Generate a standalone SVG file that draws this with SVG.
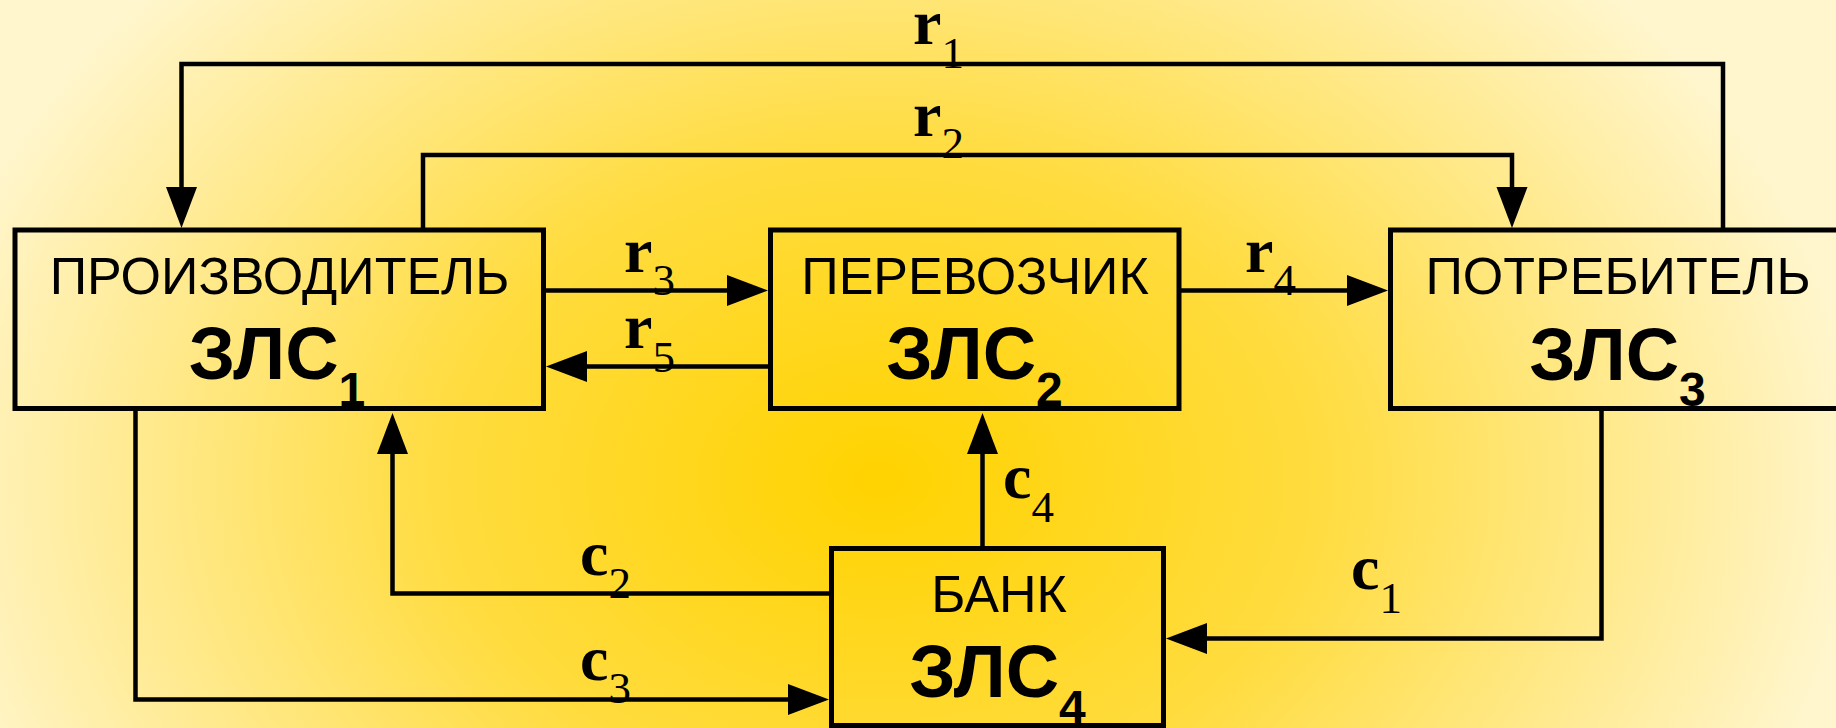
<svg xmlns="http://www.w3.org/2000/svg" width="1836" height="728" viewBox="0 0 1836 728">
<defs>
<radialGradient id="bg" gradientUnits="userSpaceOnUse" cx="880" cy="480" r="980" gradientTransform="translate(880 480) scale(1 0.75) translate(-880 -480)">
<stop offset="0" stop-color="#FFD300"/>
<stop offset="0.45" stop-color="#FFDC40"/>
<stop offset="0.8" stop-color="#FFEC9A"/>
<stop offset="1" stop-color="#FFF6CE"/>
</radialGradient>
<marker id="ah" markerUnits="userSpaceOnUse" markerWidth="42" markerHeight="32" viewBox="0 0 42 32" refX="1" refY="15.5" orient="auto">
<path d="M0,0 L41,15.5 L0,31 Z" fill="#000"/>
</marker>
</defs>
<style>
.box{fill:none;stroke:#000;stroke-width:5}
.ln{fill:none;stroke:#000;stroke-width:4.5;marker-end:url(#ah)}
.nm{font-family:"Liberation Sans",Arial,sans-serif;font-size:52px;fill:#000;text-anchor:middle}
.zl{font-family:"Liberation Sans",Arial,sans-serif;font-size:74px;font-weight:bold;fill:#000;text-anchor:middle}
.zs{font-size:48px}
.lb{font-family:"Liberation Serif","Times New Roman",serif;font-size:64px;font-weight:bold;fill:#000}
.ls{font-size:45px;font-weight:normal}
</style>
<rect x="0" y="0" width="1836" height="728" fill="url(#bg)"/>

<g id="connectors">
<path class="ln" d="M1723,230 V64 H181.5 V188"/>
<path class="ln" d="M423,230 V155 H1512 V188"/>
<path class="ln" d="M543.5,290.5 H728"/>
<path class="ln" d="M770.5,366.5 H586"/>
<path class="ln" d="M1179,290.5 H1348"/>
<path class="ln" d="M982.5,548.5 V453"/>
<path class="ln" d="M831.5,593.5 H392.5 V453"/>
<path class="ln" d="M135.5,408.5 V699.5 H789"/>
<path class="ln" d="M1601.5,408.5 V638.5 H1206"/>
<text class="lb" x="913" y="44">r<tspan class="ls" dy="24">1</tspan></text>
<text class="lb" x="913" y="136">r<tspan class="ls" dy="22">2</tspan></text>
<text class="lb" x="624" y="272">r<tspan class="ls" dy="23">3</tspan></text>
<text class="lb" x="1245" y="272">r<tspan class="ls" dy="23">4</tspan></text>
<text class="lb" x="624" y="348">r<tspan class="ls" dy="24">5</tspan></text>
<text class="lb" x="1351" y="589">c<tspan class="ls" dy="24">1</tspan></text>
<text class="lb" x="580" y="575">c<tspan class="ls" dy="23">2</tspan></text>
<text class="lb" x="580" y="680">c<tspan class="ls" dy="23">3</tspan></text>
<text class="lb" x="1003" y="498">c<tspan class="ls" dy="24">4</tspan></text>
</g>

<g id="producer">
<rect class="box" x="15" y="230" width="528.5" height="178.5"/>
<text class="nm" x="279.5" y="294">ПРОИЗВОДИТЕЛЬ</text>
<text class="zl" x="277" y="379">ЗЛС<tspan class="zs" dy="27">1</tspan></text>
</g>

<g id="carrier">
<rect class="box" x="770.5" y="230" width="408.5" height="178.5"/>
<text class="nm" x="975" y="294">ПЕРЕВОЗЧИК</text>
<text class="zl" x="974.5" y="379">ЗЛС<tspan class="zs" dy="27">2</tspan></text>
</g>

<g id="consumer">
<rect class="box" x="1390.5" y="230" width="455" height="178.5"/>
<text class="nm" x="1618" y="294">ПОТРЕБИТЕЛЬ</text>
<text class="zl" x="1617.5" y="380">ЗЛС<tspan class="zs" dy="26">3</tspan></text>
</g>

<g id="bank">
<rect class="box" x="831.5" y="548.5" width="332" height="177"/>
<text class="nm" x="999" y="612">БАНК</text>
<text class="zl" x="997.5" y="697">ЗЛС<tspan class="zs" dy="27">4</tspan></text>
</g>
</svg>
